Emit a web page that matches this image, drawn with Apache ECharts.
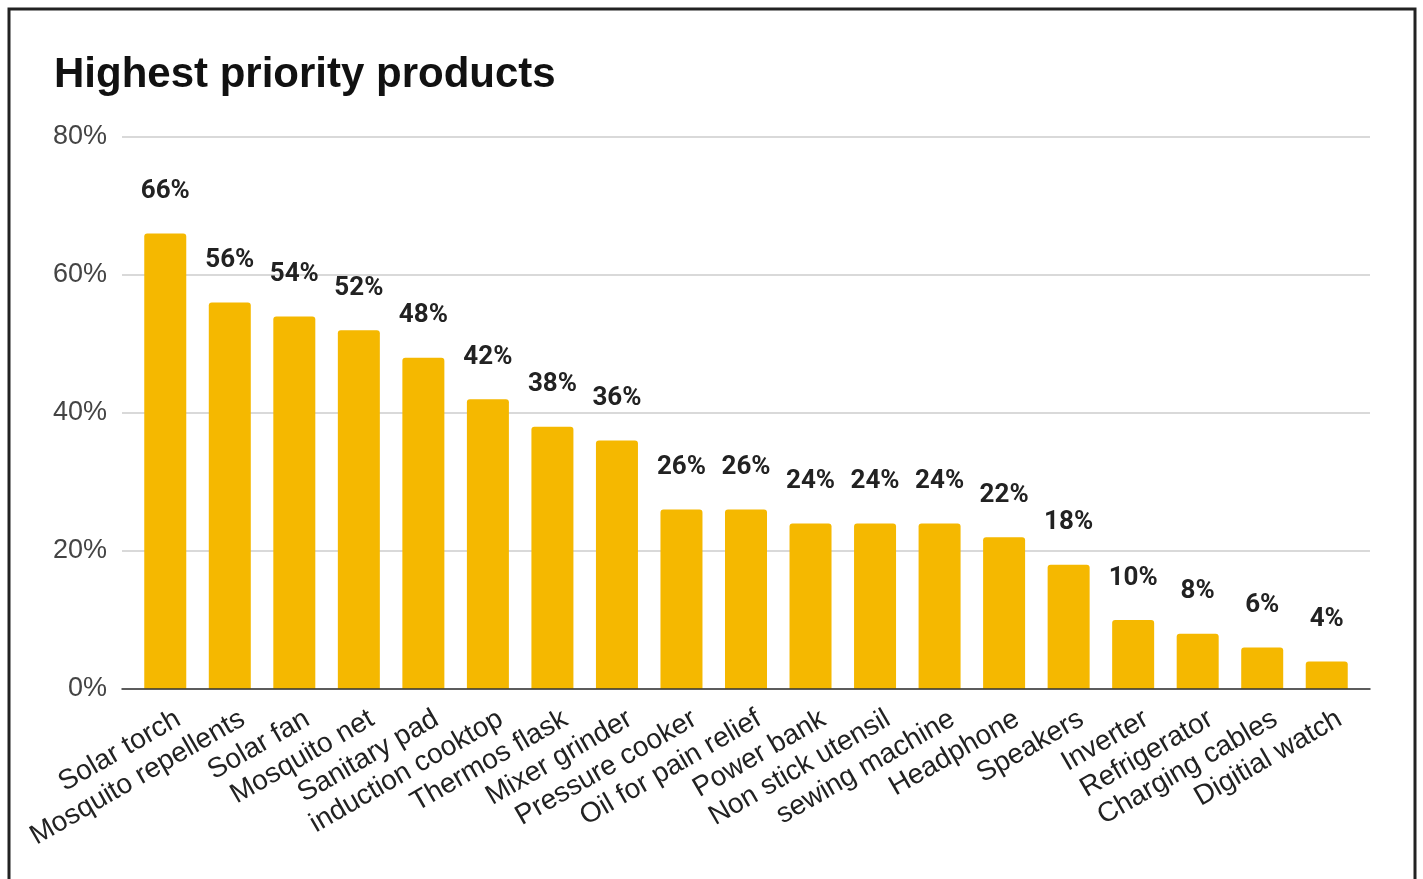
<!DOCTYPE html>
<html>
<head>
<meta charset="utf-8">
<script src="https://cdn.jsdelivr.net/npm/echarts@6/dist/echarts.min.js"></script>
<style>
html,body{margin:0;padding:0;background:#fff;}
#chart{width:1423px;height:879px;}
</style>
</head>
<body>
<div id="chart"></div>
<script>
const categories = ["Solar torch","Mosquito repellents","Solar fan","Mosquito net","Sanitary pad","induction cooktop","Thermos flask","Mixer grinder","Pressure cooker","Oil for pain relief","Power bank","Non stick utensil","sewing machine","Headphone","Speakers","Inverter","Refrigerator","Charging cables","Digitial watch"];
const values = [66,56,54,52,48,42,38,36,26,26,24,24,24,22,18,10,8,6,4];
const yTicks = [0,20,40,60,80];

const FONT = "'Liberation Sans', Arial, sans-serif";
const chart = echarts.init(document.getElementById('chart'), null, {renderer:'canvas'});
const gTop = 137, gBottom = 190;
chart.setOption({
  backgroundColor:'#fff',
  animation:false,
  textStyle:{fontFamily:FONT},
  title:{
    text:'Highest priority products',
    left:49, top:49,
    textStyle:{fontSize:42, fontWeight:'bold', color:'#111', fontFamily:FONT}
  },
  graphic:[{
    type:'rect', silent:true, z:-1,
    shape:{x:9, y:9, width:1406, height:900},
    style:{fill:'none', stroke:'#222', lineWidth:3}
  }],
  grid:[
    {left:122, right:53, top:gTop, bottom:gBottom},
    {left:133, right:64, top:gTop, bottom:gBottom},
    {left:146, right:51, top:gTop, bottom:gBottom}
  ],
  xAxis:[
    {gridIndex:0, type:'category', data:categories,
     axisLine:{show:true, lineStyle:{color:'#333', width:1.5}},
     axisTick:{show:false}, axisLabel:{show:false}, z:5},
    {gridIndex:1, type:'category', data:categories, show:false},
    {gridIndex:2, type:'category', data:categories,
     axisLine:{show:false}, axisTick:{show:false},
     axisLabel:{interval:0, rotate:30, fontSize:28, color:'#222', margin:28, fontFamily:FONT}}
  ],
  yAxis:[
    {gridIndex:0, type:'value', min:yTicks[0], max:yTicks[yTicks.length-1], interval:yTicks[1]-yTicks[0],
     axisLine:{show:false}, axisTick:{show:false},
     axisLabel:{formatter:'{value}%', fontSize:27, color:'#444', margin:15, fontFamily:FONT},
     splitLine:{lineStyle:{color:'#cccccc', width:1.5}}},
    {gridIndex:1, type:'value', min:yTicks[0], max:yTicks[yTicks.length-1], show:false},
    {gridIndex:2, type:'value', min:yTicks[0], max:yTicks[yTicks.length-1], show:false}
  ],
  series:[{
    type:'bar', xAxisIndex:1, yAxisIndex:1,
    data:values, barWidth:42,
    itemStyle:{color:'#F5B800', borderRadius:[3,3,0,0]},
    label:{show:true, position:'top', distance:29, formatter:'{c}%',
      fontSize:26, fontWeight:'bold', color:'#222', fontFamily:"Roboto, 'Liberation Sans', sans-serif"}
  }]
});
</script>
</body>
</html>
